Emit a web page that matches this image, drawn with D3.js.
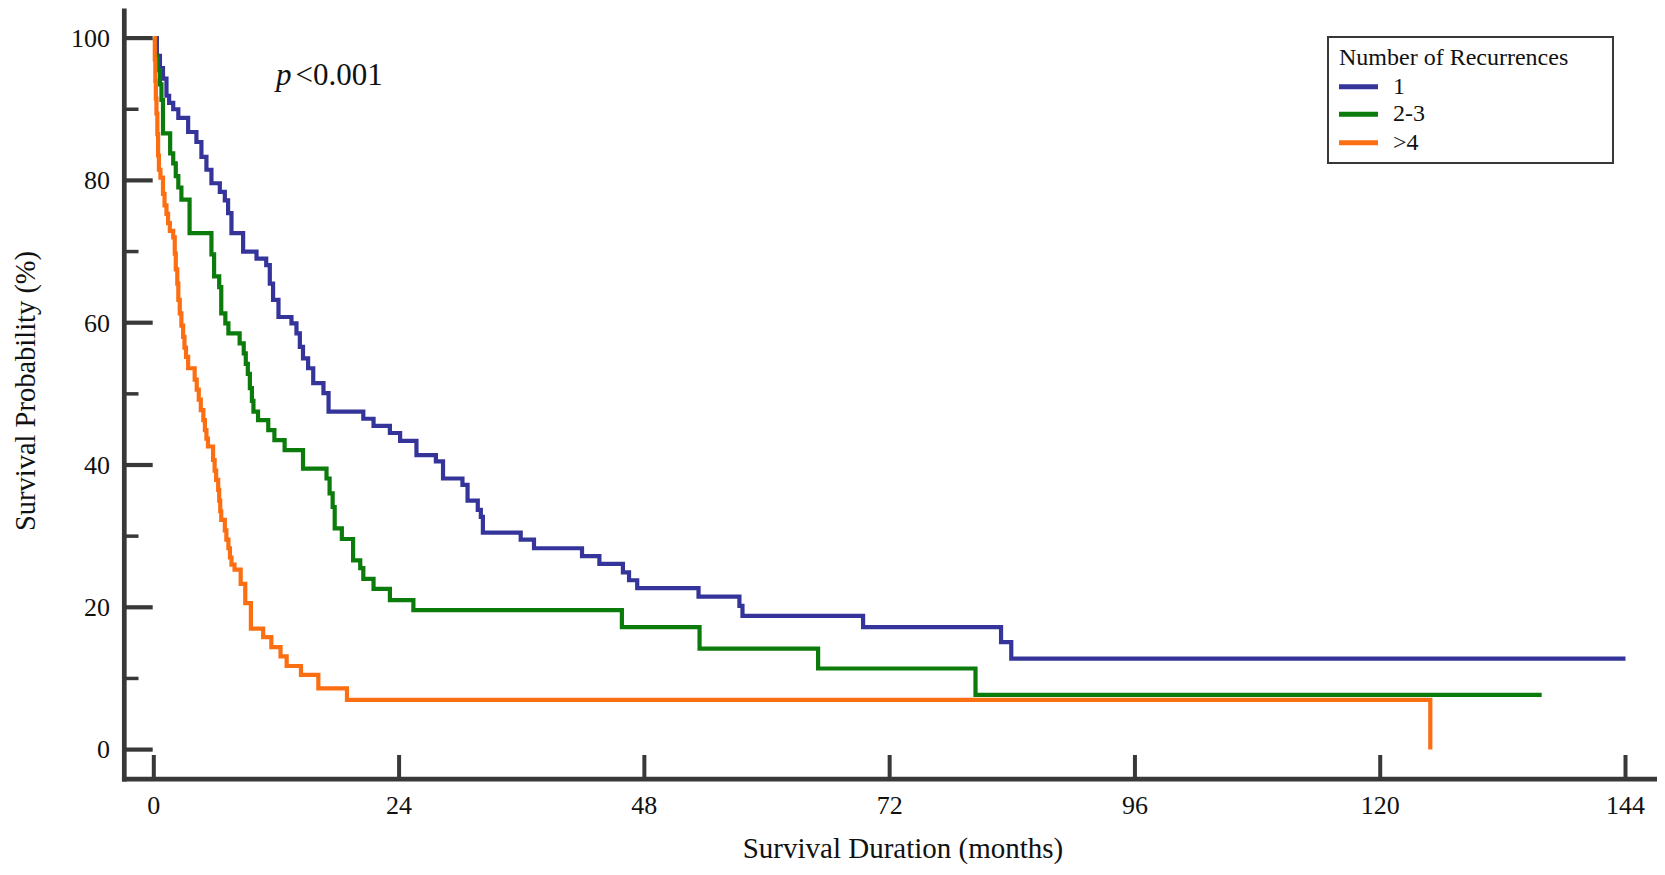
<!DOCTYPE html>
<html>
<head>
<meta charset="utf-8">
<script src="https://cdn.jsdelivr.net/npm/d3@7"></script>
<style>
  html, body { margin: 0; padding: 0; background: #ffffff; }
  svg { display: block; }
  text { font-family: "Liberation Serif", "Times New Roman", serif; fill: #111; }
</style>
</head>
<body>
<svg id="chart" width="1665" height="875"></svg>
<script>
// ---------------- data ----------------
const groupNames = ["1", "2-3", ">4"];
const groupColors = ["#34349a", "#0b7b0b", "#fb6e12"];
const legendTitle = "Number of Recurrences";
const xTickValues = [0, 24, 48, 72, 96, 120, 144];
const yMajorTicks = [0, 20, 40, 60, 80, 100];
const yMinorTicks = [10, 30, 50, 70, 90];
const xTitle = "Survival Duration (months)";
const yTitle = "Survival Probability (%)";

// [time (months), survival (%)] — step points (value holds from time onward)
const survivalGroup1 = [
  [0,100],[0.3,97.5],[0.6,95.8],[0.9,94.3],[1.24,91.9],[1.5,90.9],[1.9,90.0],[2.4,88.8],
  [3.36,86.8],[4.17,85.4],[4.66,83.3],[5.15,81.5],[5.64,79.6],[6.46,78.4],[6.95,77.2],
  [7.27,75.4],[7.6,72.6],[8.74,70.0],[10.05,69.0],[11.0,68.1],[11.35,65.5],[11.67,63.2],
  [12.2,60.8],[13.47,59.9],[13.96,58.5],[14.29,56.6],[14.6,55.0],[15.1,53.6],[15.6,51.5],
  [16.6,50.1],[17.1,47.5],[20.5,46.5],[21.5,45.5],[23.1,44.5],[24.1,43.4],[25.7,41.4],
  [27.6,40.5],[28.3,38.1],[30.2,37.2],[30.7,35.0],[31.7,33.7],[32.0,32.7],[32.2,30.5],
  [35.9,29.5],[37.2,28.3],[41.9,27.2],[43.6,26.1],[45.9,24.9],[46.5,23.8],[47.3,22.7],
  [53.3,21.5],[57.3,20.2],[57.6,18.8],[69.4,17.2],[82.9,15.1],[83.9,12.8],[144,12.8]
];
const survivalGroup2 = [
  [0,100],[0.2,97.5],[0.4,95.5],[0.6,93.5],[0.75,91.3],[0.9,86.6],[1.6,83.8],[1.9,82.4],
  [2.15,80.6],[2.4,79.0],[2.7,77.3],[3.5,72.6],[5.64,69.6],[5.9,66.5],[6.4,65.0],[6.6,61.3],
  [7.0,59.9],[7.3,58.5],[8.4,57.1],[8.8,55.7],[9.0,54.2],[9.2,52.8],[9.4,50.8],[9.6,49.0],
  [9.75,47.5],[10.2,46.3],[11.2,44.9],[11.8,43.5],[12.8,42.1],[14.6,39.5],[16.9,38.1],
  [17.2,36.0],[17.5,34.1],[17.7,31.1],[18.4,29.6],[19.5,26.6],[20.2,25.5],[20.5,24.0],
  [21.5,22.6],[23.1,21.0],[25.4,19.6],[45.8,17.2],[53.4,14.2],[65.0,11.4],[80.4,7.7],
  [135.8,7.7]
];
const survivalGroup3 = [
  [0,100],[0.1,97],[0.15,94],[0.2,91.5],[0.26,89.4],[0.35,86.5],[0.42,83.5],[0.5,81.5],
  [0.65,80.4],[0.9,78.1],[1.05,76.5],[1.24,75.3],[1.4,74.0],[1.57,72.9],[1.9,72.0],
  [2.05,69.7],[2.15,67.5],[2.3,65.5],[2.4,63.2],[2.54,61.3],[2.7,59.6],[2.87,58.0],
  [3.0,56.5],[3.15,55.2],[3.36,53.6],[4.0,52.0],[4.2,50.6],[4.4,49.2],[4.6,47.7],
  [4.85,46.3],[5.0,44.9],[5.15,43.7],[5.3,42.6],[5.8,40.7],[5.95,39.2],[6.1,37.9],
  [6.3,36.5],[6.4,35.0],[6.5,33.5],[6.6,32.3],[6.95,30.8],[7.1,29.5],[7.3,28.3],
  [7.45,27.0],[7.6,26.0],[7.9,25.3],[8.5,23.3],[8.95,20.6],[9.5,17.0],[10.7,15.8],
  [11.5,14.4],[12.4,13.1],[13.0,11.75],[14.4,10.5],[16.1,8.6],[18.9,7.0],[124.9,0]
];
const seriesList = [survivalGroup1, survivalGroup2, survivalGroup3];

// ---------------- layout ----------------
const svg = d3.select("#chart");
const axisColor = "#383838";
const yAxisX = 124.3, xAxisY = 779.2, yAxisTop = 8.5, xAxisRight = 1657;

const x = d3.scaleLinear().domain([0, 144]).range([153.8, 1625.5]);
const y = d3.scaleLinear().domain([0, 100]).range([749.6, 38.1]);

// curves
const line = d3.line()
  .x(d => x(d[0]))
  .y(d => y(d[1]))
  .curve(d3.curveStepAfter);

svg.append("g").selectAll("path")
  .data(seriesList)
  .join("path")
  .attr("d", line)
  .attr("fill", "none")
  .attr("stroke", (d, i) => groupColors[i])
  .attr("stroke-width", 4.2)
  .attr("stroke-linejoin", "miter")
  .attr("stroke-linecap", "butt");

// y axis
const gy = svg.append("g");
gy.append("line")
  .attr("x1", yAxisX).attr("x2", yAxisX)
  .attr("y1", yAxisTop).attr("y2", xAxisY + 2.4)
  .attr("stroke", axisColor).attr("stroke-width", 4.7);
gy.selectAll("line.major").data(yMajorTicks).join("line")
  .attr("class", "major")
  .attr("x1", yAxisX).attr("x2", 152.7)
  .attr("y1", d => y(d)).attr("y2", d => y(d))
  .attr("stroke", axisColor).attr("stroke-width", 4.2);
gy.selectAll("line.minor").data(yMinorTicks).join("line")
  .attr("class", "minor")
  .attr("x1", yAxisX).attr("x2", 138.5)
  .attr("y1", d => y(d)).attr("y2", d => y(d))
  .attr("stroke", axisColor).attr("stroke-width", 3.5);
gy.selectAll("text").data(yMajorTicks).join("text")
  .attr("x", 110)
  .attr("y", d => y(d))
  .attr("dy", "0.34em")
  .attr("text-anchor", "end")
  .attr("font-size", 26)
  .text(d => d);

// x axis
const gx = svg.append("g");
gx.append("line")
  .attr("x1", yAxisX - 2.35).attr("x2", xAxisRight)
  .attr("y1", xAxisY).attr("y2", xAxisY)
  .attr("stroke", axisColor).attr("stroke-width", 4.7);
gx.selectAll("line.tick").data(xTickValues).join("line")
  .attr("class", "tick")
  .attr("x1", d => x(d)).attr("x2", d => x(d))
  .attr("y1", xAxisY).attr("y2", 755)
  .attr("stroke", axisColor).attr("stroke-width", 4);
gx.selectAll("text").data(xTickValues).join("text")
  .attr("x", d => x(d))
  .attr("y", 814)
  .attr("text-anchor", "middle")
  .attr("font-size", 26)
  .text(d => d);

// axis titles
svg.append("text")
  .attr("x", 903).attr("y", 858)
  .attr("text-anchor", "middle")
  .attr("font-size", 29)
  .text(xTitle);
svg.append("text")
  .attr("transform", "translate(35,391) rotate(-90)")
  .attr("text-anchor", "middle")
  .attr("font-size", 28.5)
  .text(yTitle);

// p-value annotation
const pText = svg.append("text")
  .attr("x", 276).attr("y", 85)
  .attr("font-size", 31);
pText.append("tspan").attr("font-style", "italic").text("p");
pText.append("tspan").attr("dx", 4).text("<0.001");

// legend
const lg = svg.append("g");
lg.append("rect")
  .attr("x", 1328).attr("y", 37)
  .attr("width", 292 - 7).attr("height", 126)
  .attr("fill", "#fff")
  .attr("stroke", axisColor).attr("stroke-width", 2);
lg.append("text")
  .attr("x", 1339).attr("y", 65)
  .attr("font-size", 24)
  .text(legendTitle);
const entryY = [86.7, 114.3, 142.7];
const items = lg.selectAll("g.item").data(groupNames).join("g").attr("class", "item");
items.append("line")
  .attr("x1", 1339).attr("x2", 1378)
  .attr("y1", (d, i) => entryY[i]).attr("y2", (d, i) => entryY[i])
  .attr("stroke", (d, i) => groupColors[i])
  .attr("stroke-width", 5);
items.append("text")
  .attr("x", 1393)
  .attr("y", (d, i) => entryY[i] + 6.8)
  .attr("font-size", 24)
  .text(d => d);
</script>
</body>
</html>
